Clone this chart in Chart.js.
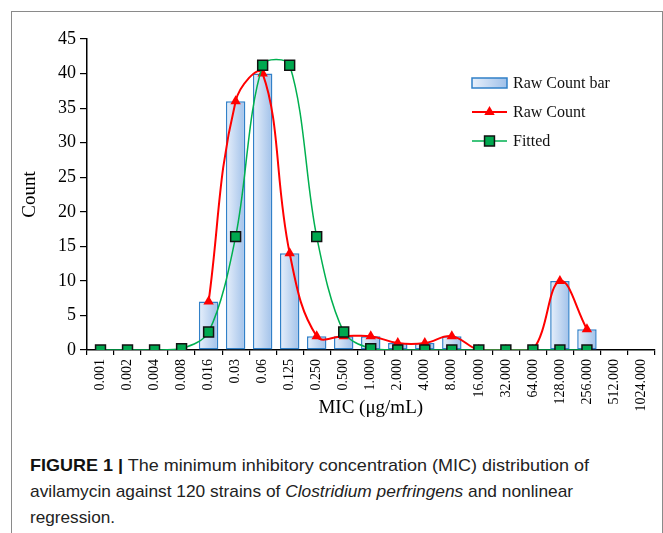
<!DOCTYPE html>
<html>
<head>
<meta charset="utf-8">
<script src="https://cdn.jsdelivr.net/npm/chart.js@4.4.1/dist/chart.umd.min.js"></script>
<style>
  body { margin: 0; background: #fff; width: 663px; height: 533px; position: relative; overflow: hidden; }
  .frame { position: absolute; left: 11px; top: 11px; width: 652px; height: 600px; box-sizing: border-box;
           border-top: 1.5px solid #8a8a8a; border-left: 1.5px solid #8a8a8a; border-right: 1.5px solid #8a8a8a; }
  .wrap { position: absolute; left: 0; top: 0; width: 663px; height: 430px; }
  .caption { position: absolute; left: 30px; top: 453px; font-family: "Liberation Sans", Arial, sans-serif;
             font-size: 17px; line-height: 26px; color: #222; white-space: nowrap; }
  .caption .ln { display: inline-block; transform-origin: 0 50%; }
  .caption b { color: #111; }
</style>
</head>
<body>
<div class="frame"></div>
<div class="wrap"><canvas id="micChart" width="663" height="430"></canvas></div>
<div class="caption" id="caption">
  <span class="ln" data-w="559"><b>FIGURE 1 |</b> The minimum inhibitory concentration (MIC) distribution of</span><br>
  <span class="ln" data-w="543">avilamycin against 120 strains of <i>Clostridium perfringens</i> and nonlinear</span><br>
  <span class="ln" data-w="85">regression.</span>
</div>
<script>
// MIC categories (µg/mL)
const micLabels = ["0.001", "0.002", "0.004", "0.008", "0.016", "0.03", "0.06", "0.125", "0.250", "0.500",
  "1.000", "2.000", "4.000", "8.000", "16.000", "32.000", "64.000", "128.000", "256.000", "512.000", "1024.000"];

// number of strains per MIC
const rawCountBar = [0, 0, 0, 0, 7, 36, 40, 14, 2, 2, 2, 1, 1, 2, 0, 0, 0, 10, 3, null, null];
const rawCount = [null, null, null, null, 7, 36, 40, 14, 2, 2, 2, 1, 1, 2, 0, 0, 0, 10, 3, null, null];
// nonlinear regression
const fitted = [0, 0, 0, 0.2, 2.6, 16.4, 41.2, 41.2, 16.4, 2.6, 0.2, 0, 0, 0, 0, 0, 0, 0, 0, null, null];

const yTicks = { min: 0, max: 45, step: 5 };

const serif = "'Liberation Serif', 'Times New Roman', serif";

function makeBarGradient(ctx, x0, x1) {
  const g = ctx.createLinearGradient(x0, 0, x1, 0);
  g.addColorStop(0, "#e8f0fb");
  g.addColorStop(1, "#9fc0e9");
  return g;
}

function barGradient(context) {
  const chart = context.chart;
  if (!chart.chartArea) return "#c6daf2";
  const x = chart.scales.x.getPixelForValue(context.dataIndex);
  return makeBarGradient(chart.ctx, x - 10, x + 10);
}

// legend drawn inside the plot, top right
const sideLegend = {
  id: "sideLegend",
  afterDatasetsDraw(chart) {
    const ctx = chart.ctx;
    const ds = chart.data.datasets;
    const x0 = 472, x1 = 507, tx = 513;
    const rows = [83, 112, 141];
    ctx.save();

    // bar entry
    ctx.fillStyle = makeBarGradient(ctx, x0, x1);
    ctx.fillRect(x0, rows[0] - 5, x1 - x0, 10);
    ctx.strokeStyle = ds[0].borderColor;
    ctx.lineWidth = 1.5;
    ctx.strokeRect(x0, rows[0] - 5, x1 - x0, 10);

    // line entries
    [1, 2].forEach((i) => {
      const y = rows[i];
      ctx.strokeStyle = ds[i].borderColor;
      ctx.lineWidth = ds[i].borderWidth;
      ctx.beginPath();
      ctx.moveTo(x0, y);
      ctx.lineTo(x1, y);
      ctx.stroke();
      ctx.fillStyle = ds[i].pointBackgroundColor;
      ctx.strokeStyle = ds[i].pointBorderColor || ds[i].borderColor;
      ctx.lineWidth = ds[i].pointBorderWidth;
      Chart.helpers.drawPoint(ctx, {
        pointStyle: ds[i].pointStyle,
        radius: ds[i].pointRadius,
        borderWidth: ds[i].pointBorderWidth,
      }, (x0 + x1) / 2, y);
    });

    ctx.font = "16px " + serif;
    ctx.fillStyle = "#111";
    ctx.textBaseline = "middle";
    ds.forEach((d, i) => ctx.fillText(d.label, tx, rows[i] + 1));
    ctx.restore();
  },
};

Chart.register(sideLegend);

const chart = new Chart(document.getElementById("micChart"), {
  type: "bar",
  data: {
    labels: micLabels,
    datasets: [
      {
        label: "Raw Count bar",
        data: rawCountBar,
        backgroundColor: barGradient,
        borderColor: "#3180c8",
        borderWidth: 1.5,
        borderSkipped: false,
        barPercentage: 0.72,
        categoryPercentage: 1,
        order: 3,
      },
      {
        type: "line",
        label: "Raw Count",
        data: rawCount,
        borderColor: "#ff0000",
        backgroundColor: "#ff0000",
        borderWidth: 2,
        pointStyle: "triangle",
        pointRadius: 6,
        pointBorderWidth: 0,
        pointBackgroundColor: "#ff0000",
        pointBorderColor: "#ff0000",
        tension: 0.4,
        order: 2,
      },
      {
        type: "line",
        label: "Fitted",
        data: fitted,
        borderColor: "#00b050",
        backgroundColor: "#00b050",
        borderWidth: 1.5,
        pointStyle: "rect",
        pointRadius: 7,
        pointBorderWidth: 1.5,
        pointBackgroundColor: "#00a84f",
        pointBorderColor: "#111",
        tension: 0.33,
        order: 1,
      },
    ],
  },
  options: {
    responsive: false,
    animation: false,
    layout: { padding: { left: 17, right: 8, top: 39, bottom: 0 } },
    plugins: { legend: { display: false }, tooltip: { enabled: false } },
    scales: {
      x: {
        offset: true,
        grid: { drawOnChartArea: false, drawTicks: true, tickLength: 5, offset: true, color: "#000", lineWidth: 1.2 },
        border: { display: true, color: "#000", width: 1.5 },
        ticks: { maxRotation: 90, minRotation: 90, autoSkip: false, color: "#000", padding: 4,
                 font: { family: serif, size: 14 } },
        title: { display: true, text: "MIC (μg/mL)", color: "#000", font: { family: serif, size: 19 },
                 padding: { top: 0, bottom: 11 } },
        afterFit: (s) => { s.height = 80; },
      },
      y: {
        min: yTicks.min,
        max: yTicks.max,
        grid: { drawOnChartArea: false, drawTicks: true, tickLength: 7, color: "#000", lineWidth: 1.2 },
        border: { display: true, color: "#000", width: 1.5 },
        ticks: { stepSize: yTicks.step, color: "#000", padding: 4, font: { family: serif, size: 18 } },
        title: { display: true, text: "Count", color: "#000", font: { family: serif, size: 19 },
                 padding: { top: 2, bottom: 0 } },
        afterFit: (s) => { s.width = 70; },
      },
    },
  },
});

// squeeze each caption line to the width of the original figure text
document.querySelectorAll("#caption .ln").forEach((ln) => {
  const k = Number(ln.dataset.w) / ln.getBoundingClientRect().width;
  ln.style.transform = "scaleX(" + k.toFixed(3) + ")";
});
</script>
</body>
</html>
